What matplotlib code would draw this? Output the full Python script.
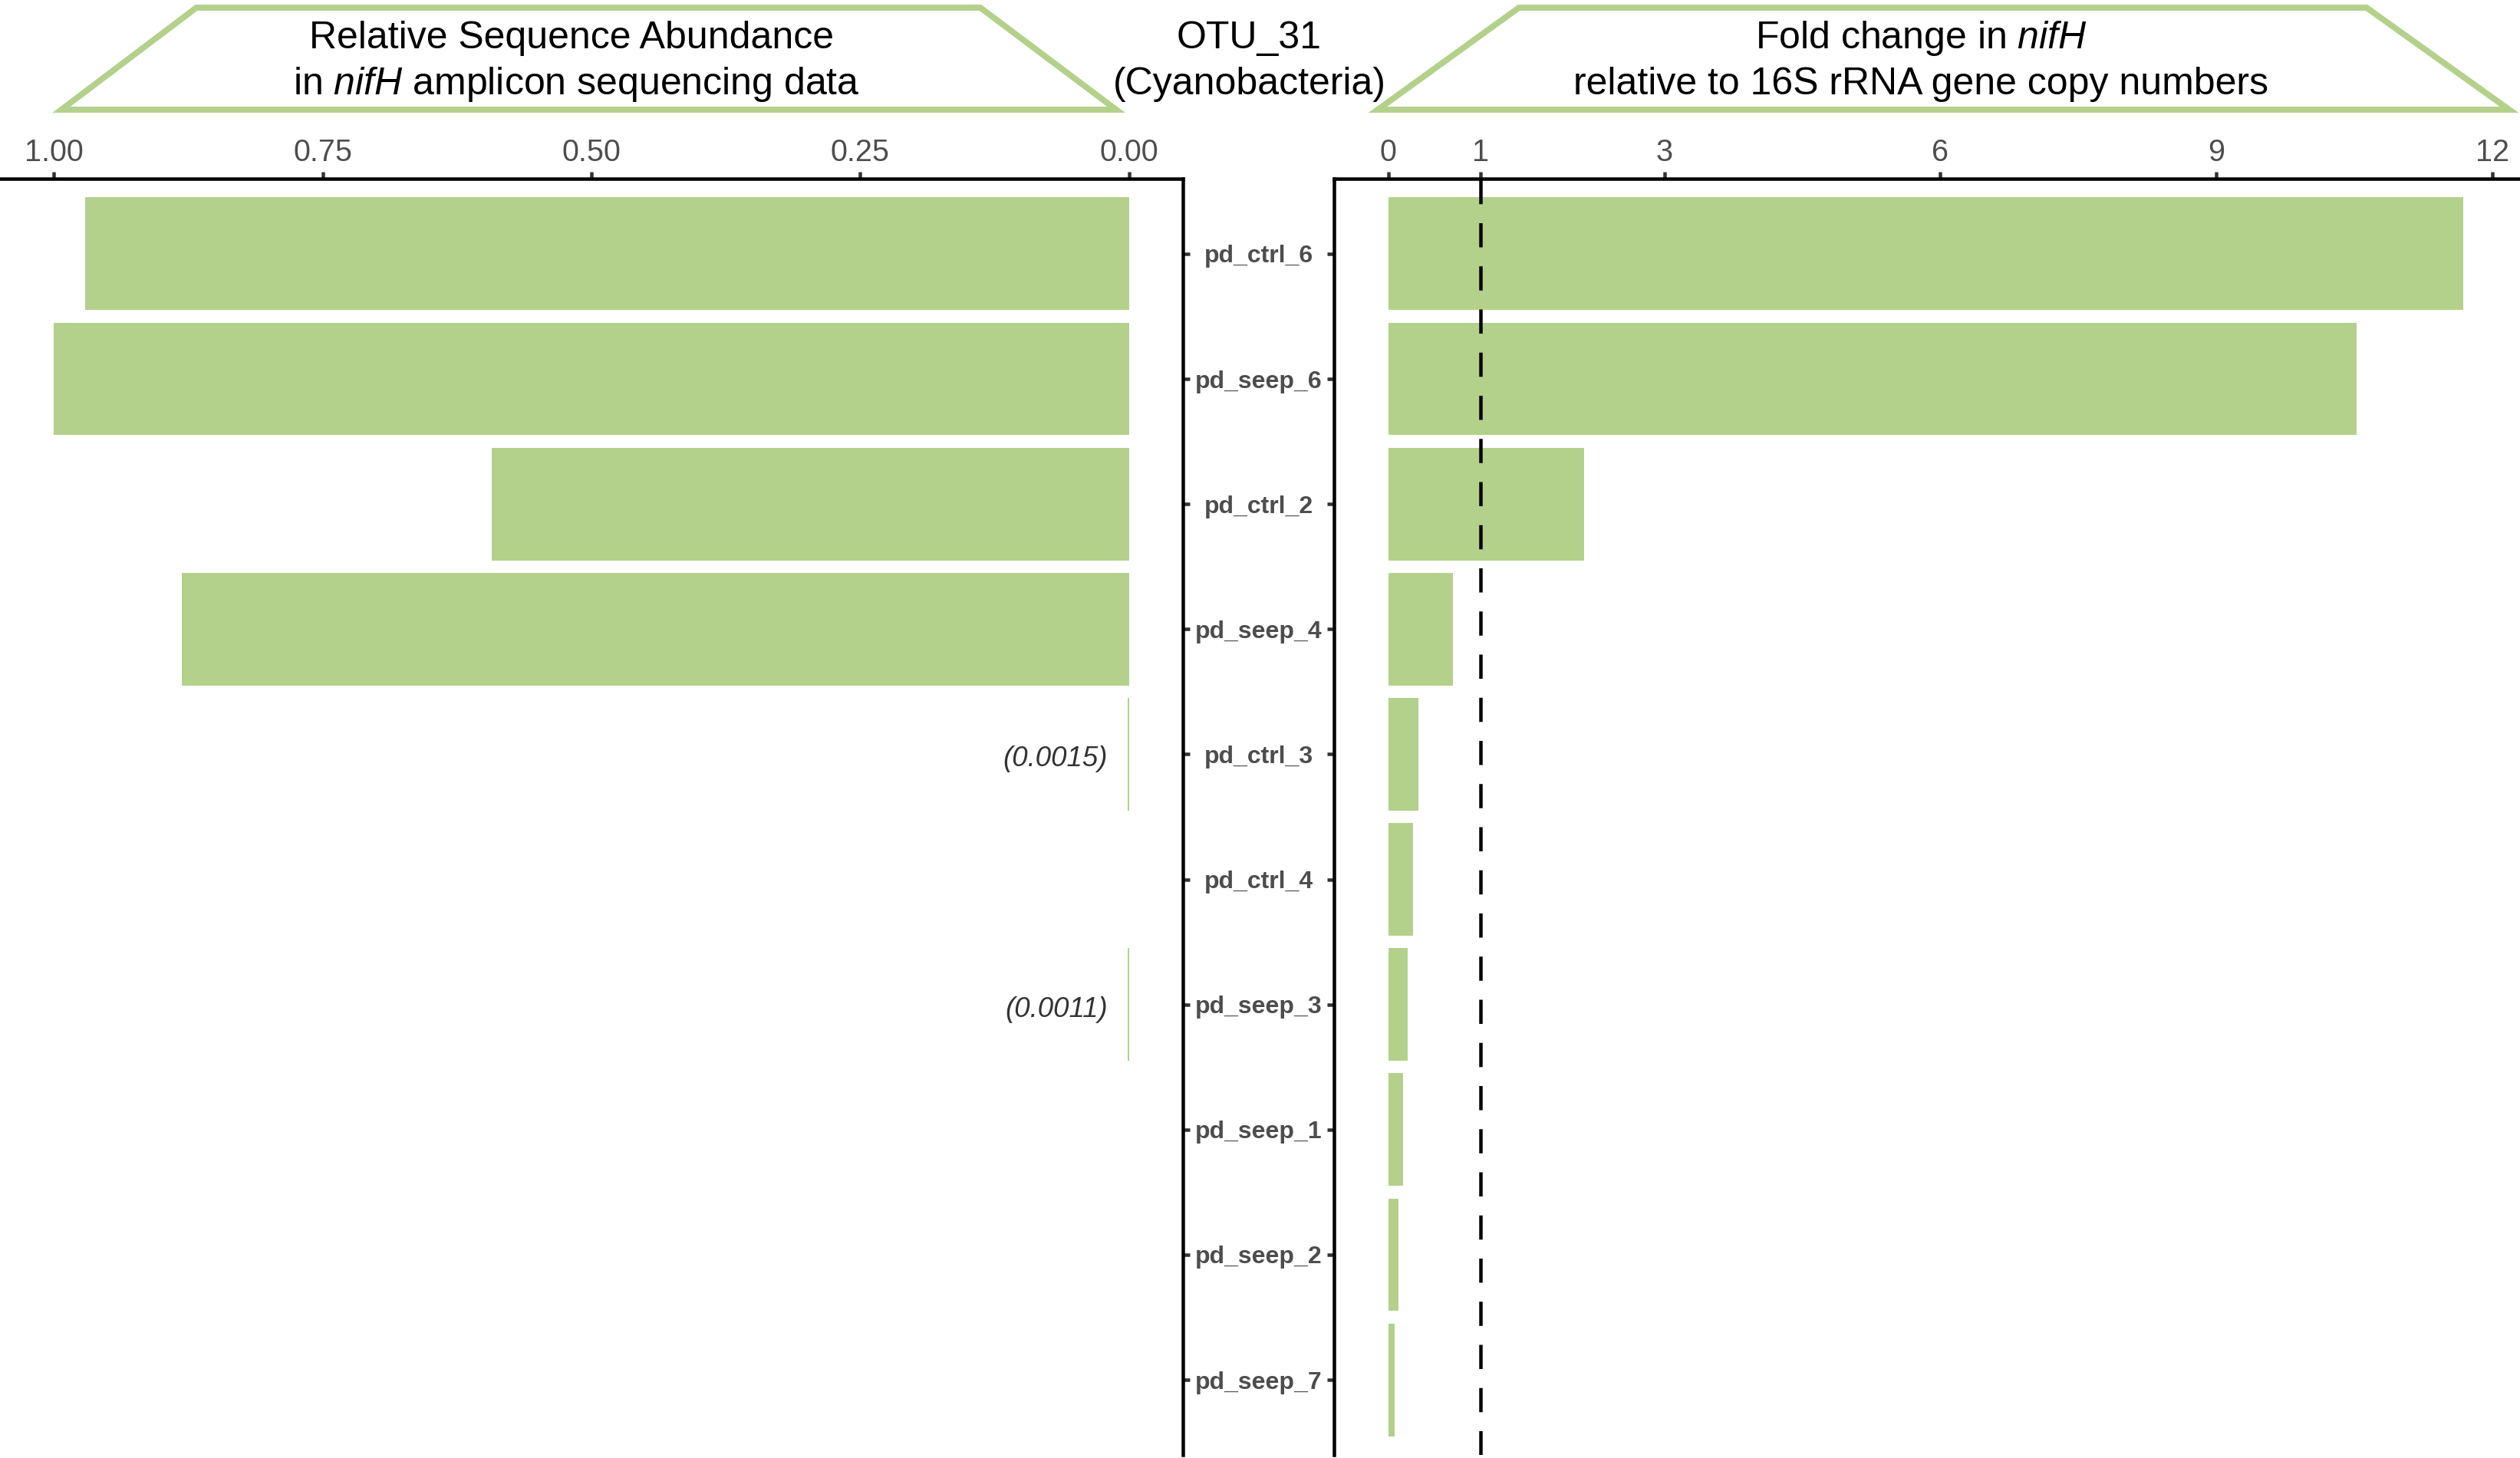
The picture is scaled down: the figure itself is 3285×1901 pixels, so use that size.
import matplotlib
matplotlib.use("Agg")
import matplotlib.pyplot as plt
from matplotlib.patches import Polygon
import numpy as np

plt.rcParams['font.family'] = ['Liberation Sans', 'DejaVu Sans']
plt.rcParams['mathtext.fontset'] = 'custom'
plt.rcParams['mathtext.rm'] = 'Liberation Sans'
plt.rcParams['mathtext.it'] = 'Liberation Sans:italic'

# dati
samples = ['pd_ctrl_6', 'pd_seep_6', 'pd_ctrl_2', 'pd_seep_4', 'pd_ctrl_3',
           'pd_ctrl_4', 'pd_seep_3', 'pd_seep_1', 'pd_seep_2', 'pd_seep_7']
rel_abundance = [0.971, 1.0, 0.593, 0.881, 0.0015, 0.0, 0.0011, 0.0, 0.0, 0.0]
fold_change = [11.68, 10.52, 2.13, 0.70, 0.33, 0.27, 0.21, 0.16, 0.11, 0.07]
left_ticks = [1.00, 0.75, 0.50, 0.25, 0.00]
right_ticks = [0, 1, 3, 6, 9, 12]

green = '#B3D18A'
grey30 = '#4D4D4D'
W, H = 3285, 1901
lw = 1.08

fig = plt.figure(figsize=(W / 300, H / 300), dpi=300)

def fx(x):
    return x / W

def fy(y):
    return 1 - y / H

ax1 = fig.add_axes([0, fy(1897), fx(1542), fy(233) - fy(1897)])
ax2 = fig.add_axes([fx(1739), fy(1897), 1 - fx(1739), fy(233) - fy(1897)])

rows = np.arange(len(samples))

# pannello sinistro
ax1.barh(rows, rel_abundance, height=0.9, color=green, linewidth=0)
ax1.set_xlim(1.05, -0.05)
ax1.set_ylim(len(samples) - 1 + 0.6, -0.6)
for r, v in zip(rows, rel_abundance):
    if 0 < v < 0.01:
        ax1.text(0.02, r + 0.04, '(%.4f)' % v, ha='right', va='center',
                 style='italic', fontsize=8.8, color='#333333')

# pannello destro
ax2.barh(rows, fold_change, height=0.9, color=green, linewidth=0)
ax2.axvline(1, color='black', lw=lw, ls=(0, (7, 5.5)))
ax2.set_xlim(-0.59, 12.3)
ax2.set_ylim(len(samples) - 1 + 0.6, -0.6)

for ax, ticks in ((ax1, left_ticks), (ax2, right_ticks)):
    ax.xaxis.tick_top()
    ax.set_xticks(ticks)
    ax.tick_params(axis='x', length=2.2, width=lw, color='#333333',
                   labelcolor=grey30, labelsize=9.5, pad=1.5)
    ax.spines['bottom'].set_visible(False)
    for s in ax.spines.values():
        s.set_linewidth(lw)

ax1.set_xticklabels(['%.2f' % t for t in left_ticks])
ax2.set_xticklabels([str(t) for t in right_ticks])

ax1.spines['left'].set_visible(False)
ax1.yaxis.tick_right()
ax1.set_yticks(rows)
ax1.tick_params(axis='y', length=2.2, width=lw, color='#333333', labelright=False)

ax2.spines['right'].set_visible(False)
ax2.set_yticks(rows)
ax2.set_yticklabels(samples, fontweight='bold', fontsize=7.7, color=grey30)
ax2.tick_params(axis='y', length=2.2, width=lw, color='#333333', pad=21.4)
for lab in ax2.get_yticklabels():
    lab.set_horizontalalignment('center')

# intestazioni a trapezio
trap_left = [(256, 10), (1278, 10), (1455, 143), (80, 143)]
trap_right = [(1980, 10), (3085, 10), (3271, 143), (1796, 143)]
for pts in (trap_left, trap_right):
    poly = Polygon([(fx(x), fy(y)) for x, y in pts], closed=True,
                   transform=fig.transFigure, fill=False, edgecolor=green,
                   linewidth=1.9, joinstyle='miter')
    fig.add_artist(poly)

fs = 12
fig.text(fx(745), fy(63), 'Relative Sequence Abundance', ha='center', va='baseline', fontsize=fs)
fig.text(fx(751), fy(123), r'in $\mathit{nifH}$ amplicon sequencing data', ha='center', va='baseline', fontsize=fs)
fig.text(fx(1628), fy(63), 'OTU_31', ha='center', va='baseline', fontsize=fs)
fig.text(fx(1629), fy(123), '(Cyanobacteria)', ha='center', va='baseline', fontsize=fs)
fig.text(fx(2504), fy(63), r'Fold change in $\mathit{nifH}$', ha='center', va='baseline', fontsize=fs)
fig.text(fx(2504), fy(123), 'relative to 16S rRNA gene copy numbers', ha='center', va='baseline', fontsize=fs)

fig.savefig('out.png', dpi=300)
